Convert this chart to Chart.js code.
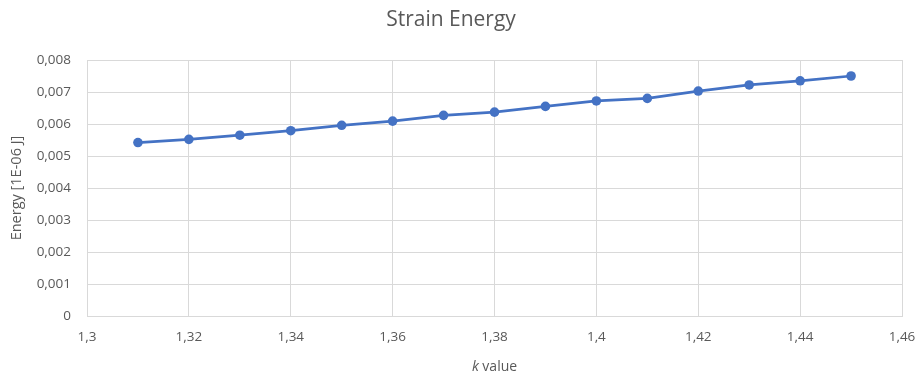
<!DOCTYPE html>
<html>
<head>
<meta charset="utf-8">
<script src="https://cdn.jsdelivr.net/npm/chart.js@4"></script>
<style>
  html, body { margin: 0; padding: 0; background: #ffffff; }
  #wrap { width: 918px; height: 376px; position: relative; }
</style>
</head>
<body>
<div id="wrap"><canvas id="chart" width="918" height="376"></canvas></div>
<script>
// k values along the x axis
const kValues = [1.31, 1.32, 1.33, 1.34, 1.35, 1.36, 1.37, 1.38, 1.39, 1.40, 1.41, 1.42, 1.43, 1.44, 1.45];
// strain energy for each k, in units of 1E-06 J
const energy = [0.00542, 0.00552, 0.00565, 0.00579, 0.00596, 0.00609, 0.00627, 0.00637, 0.00655, 0.00672, 0.00680, 0.00703, 0.00722, 0.00735, 0.00750];

const chartTitle = 'Strain Energy';
const yTitle = 'Energy [1E-06 J]';
const xTitleItalic = 'k';
const xTitleRest = ' value';

const FONT = "'Open Sans', 'Noto Sans', sans-serif";
const TEXT = '#595959';
const GRID = '#d9d9d9';
const LINE = '#4472c4';

const commaNum = (v, digits) => {
  const r = Math.round(v * Math.pow(10, digits)) / Math.pow(10, digits);
  return String(r).replace('.', ',');
};

// x axis title with an italic "k"
const xTitlePlugin = {
  id: 'xTitle',
  afterDraw(chart) {
    const ctx = chart.ctx;
    const area = chart.chartArea;
    ctx.save();
    ctx.fillStyle = TEXT;
    ctx.textBaseline = 'middle';
    const italic = 'italic 14px ' + FONT;
    const normal = '14px ' + FONT;
    ctx.font = italic;
    const w1 = ctx.measureText(xTitleItalic).width;
    ctx.font = normal;
    const w2 = ctx.measureText(xTitleRest).width;
    const cx = (area.left + area.right) / 2;
    const x = cx - (w1 + w2) / 2;
    const y = 367;
    ctx.textAlign = 'left';
    ctx.font = italic;
    ctx.fillText(xTitleItalic, x, y);
    ctx.font = normal;
    ctx.fillText(xTitleRest, x + w1, y);
    ctx.restore();
  }
};

const points = kValues.map((k, i) => ({ x: k, y: energy[i] }));

new Chart(document.getElementById('chart'), {
  type: 'scatter',
  data: {
    datasets: [{
      data: points,
      showLine: true,
      borderColor: LINE,
      backgroundColor: LINE,
      borderWidth: 2.75,
      pointRadius: 4.8,
      pointHoverRadius: 4.8,
      pointBorderWidth: 0,
      tension: 0
    }]
  },
  options: {
    responsive: false,
    animation: false,
    events: [],
    layout: { padding: { top: 0, left: 0, right: 16, bottom: 0 } },
    plugins: {
      legend: { display: false },
      tooltip: { enabled: false },
      title: {
        display: true,
        text: chartTitle,
        color: TEXT,
        font: { family: FONT, size: 21, weight: 'normal' },
        lineHeight: 1.2,
        padding: { top: 7.4, bottom: 27.4 }
      }
    },
    scales: {
      x: {
        type: 'linear',
        min: 1.3,
        max: 1.46,
        border: { display: true, color: GRID, width: 1 },
        grid: { color: GRID, lineWidth: 1, drawTicks: false },
        ticks: {
          stepSize: 0.02,
          color: TEXT,
          font: { family: FONT, size: 13.5 },
          padding: 13,
          maxRotation: 0,
          callback: (v) => commaNum(v, 2)
        },
        afterFit(scale) {
          scale.height = 60;
          scale.paddingLeft = 0;
          scale.paddingRight = 0;
        }
      },
      y: {
        min: 0,
        max: 0.008,
        border: { display: true, color: GRID, width: 1 },
        grid: { color: GRID, lineWidth: 1, drawTicks: false },
        ticks: {
          stepSize: 0.001,
          color: TEXT,
          font: { family: FONT, size: 13.5 },
          padding: 16,
          callback: (v) => commaNum(v, 3)
        },
        title: {
          display: true,
          text: yTitle,
          color: TEXT,
          font: { family: FONT, size: 14.5 },
          padding: { top: 8.3, bottom: 0 }
        },
        afterFit(scale) {
          scale.width = 87;
          scale.paddingTop = 0;
          scale.paddingBottom = 0;
        }
      }
    }
  },
  plugins: [xTitlePlugin]
});
</script>
</body>
</html>
